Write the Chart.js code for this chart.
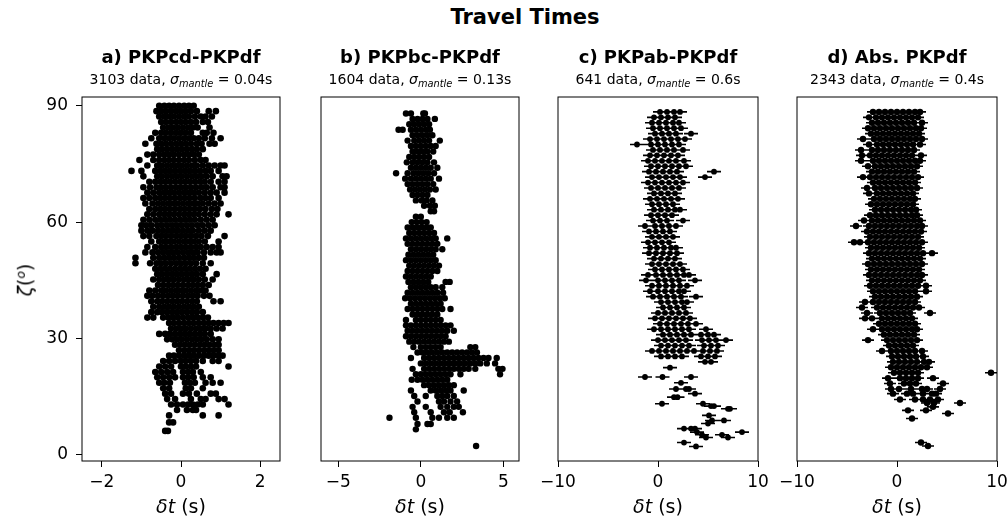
<!DOCTYPE html>
<html>
<head>
<meta charset="utf-8">
<script src="https://cdn.jsdelivr.net/npm/chart.js@4.4.1/dist/chart.umd.min.js"></script>
<style>
  html, body { margin: 0; padding: 0; background: #fff; overflow: hidden; }
  #fig { position: relative; width: 1007px; height: 524px; overflow: hidden;
         font-family: "DejaVu Sans", sans-serif; color: #000; }
  #fig canvas { position: absolute; }
  .lbl { position: absolute; white-space: nowrap; transform: translate(-50%, -50%); line-height: 1; }
  .suptitle { font-size: 21px; font-weight: bold; }
  .ptitle { font-size: 18px; font-weight: bold; }
  .psub { font-size: 14px; }
  .psub sub { font-size: 70%; vertical-align: -0.3em; }
  .xlab { font-size: 19px; }
  .ylab { font-size: 19px; transform: translate(-50%, -50%) rotate(-90deg); }
  .ylab sup { font-size: 65%; vertical-align: 0.6em; }
</style>
</head>
<body>
<div id="fig"></div>
<script>
/* ======================================================
   DATA  (one row = [zeta, dt, dt, ...])
====================================================== */

const figTitle = 'Travel Times';
const panelTitles = ['a) PKPcd-PKPdf', 'b) PKPbc-PKPdf', 'c) PKPab-PKPdf', 'd) Abs. PKPdf'];
const panelCounts = [3103, 1604, 641, 2343];
const sigmaMantle = ['0.04', '0.13', '0.6', '0.4'];
const errHalf = [0, 0, 0.7, 0.6];

const yTicks = [0, 30, 60, 90];
const xTicksA = [-2, 0, 2];
const xTicksB = [-5, 0, 5];
const xTicksC = [-10, 0, 10];
const xTicksD = [-10, 0, 10];

const aRows = [
  [90.0, -0.55,-0.42,-0.3,-0.18,-0.05,0.08,0.2,0.32],
  [88.6, -0.62,-0.5,-0.38,-0.25,-0.12,0,0.12,0.25,0.4,0.7,0.88],
  [87.2, -0.55,-0.42,-0.3,-0.18,-0.05,0.08,0.2,0.35,0.5,0.62,0.78],
  [85.8, -0.5,-0.38,-0.25,-0.12,0,0.12,0.25,0.38,0.55,0.68],
  [84.4, -0.45,-0.32,-0.2,-0.08,0.05,0.18,0.3,0.42,0.72],
  [83.0, -0.65,-0.5,-0.38,-0.25,-0.12,0,0.12,0.25,0.55,0.65,0.82],
  [81.6, -0.75,-0.55,-0.42,-0.3,-0.18,-0.05,0.08,0.2,0.32,0.45,0.6,0.78,1.0],
  [80.2, -0.9,-0.62,-0.5,-0.38,-0.25,-0.12,0,0.12,0.25,0.4,0.52,0.72,0.85],
  [78.8, -0.6,-0.48,-0.35,-0.22,-0.1,0.02,0.15,0.28,0.4,0.55],
  [77.4, -0.85,-0.7,-0.55,-0.42,-0.3,-0.18,-0.05,0.08,0.2,0.32,0.45],
  [76.0, -1.05,-0.7,-0.55,-0.42,-0.3,-0.18,-0.05,0.08,0.2,0.35,0.5,0.62],
  [74.6, -0.85,-0.6,-0.48,-0.35,-0.22,-0.1,0.02,0.15,0.28,0.4,0.55,0.7,0.85,1.0,1.1],
  [73.2, -1.25,-1.0,-0.65,-0.52,-0.4,-0.28,-0.15,-0.02,0.1,0.22,0.35,0.48,0.62,0.75,0.95],
  [71.8, -0.95,-0.6,-0.48,-0.35,-0.22,-0.1,0.02,0.15,0.28,0.4,0.52,0.65,0.8,1.05,1.15],
  [70.4, -0.8,-0.65,-0.52,-0.4,-0.28,-0.15,-0.02,0.1,0.22,0.35,0.48,0.6,0.75,0.95,1.1],
  [69.0, -0.95,-0.78,-0.62,-0.5,-0.38,-0.25,-0.12,0,0.12,0.25,0.38,0.52,0.65,0.8,1.0,1.1],
  [67.6, -0.85,-0.7,-0.55,-0.42,-0.3,-0.18,-0.05,0.08,0.2,0.32,0.45,0.6,0.75,0.9,1.1],
  [66.2, -0.95,-0.8,-0.65,-0.52,-0.4,-0.28,-0.15,-0.02,0.1,0.22,0.35,0.5,0.62,0.75,0.95],
  [64.8, -0.9,-0.72,-0.58,-0.45,-0.32,-0.2,-0.08,0.05,0.18,0.3,0.42,0.55,0.7,0.85,1.0],
  [63.4, -0.8,-0.65,-0.52,-0.4,-0.28,-0.15,-0.02,0.1,0.22,0.35,0.48,0.62,0.78,0.92],
  [62.0, -0.85,-0.7,-0.55,-0.42,-0.3,-0.18,-0.05,0.08,0.2,0.32,0.45,0.6,0.75,0.9,1.2],
  [60.6, -0.95,-0.8,-0.65,-0.52,-0.4,-0.28,-0.15,-0.02,0.1,0.22,0.35,0.5,0.65,0.8],
  [59.2, -1.0,-0.88,-0.75,-0.6,-0.48,-0.35,-0.22,-0.1,0.02,0.15,0.28,0.42,0.55,0.7,0.85],
  [57.8, -1.0,-0.85,-0.72,-0.58,-0.45,-0.32,-0.2,-0.08,0.05,0.18,0.3,0.45,0.6,0.75],
  [56.4, -0.95,-0.8,-0.62,-0.5,-0.38,-0.25,-0.12,0,0.12,0.25,0.38,0.52,0.68,1.1],
  [55.0, -0.75,-0.55,-0.42,-0.3,-0.18,-0.05,0.08,0.2,0.32,0.45,0.6,0.95],
  [53.6, -0.85,-0.65,-0.5,-0.38,-0.25,-0.12,0,0.12,0.25,0.38,0.5,0.65,0.8,0.95],
  [52.2, -0.9,-0.72,-0.58,-0.45,-0.32,-0.2,-0.08,0.05,0.18,0.3,0.42,0.58,0.75,0.9,1.0],
  [50.8, -1.15,-0.7,-0.55,-0.42,-0.3,-0.18,-0.05,0.08,0.2,0.32,0.45,0.58],
  [49.4, -1.15,-0.78,-0.62,-0.5,-0.38,-0.25,-0.12,0,0.12,0.25,0.38,0.55,0.75],
  [48.0, -0.65,-0.52,-0.4,-0.28,-0.15,-0.02,0.1,0.22,0.35,0.48,0.62],
  [46.6, -0.6,-0.48,-0.35,-0.22,-0.1,0.02,0.15,0.28,0.4,0.55,0.9],
  [45.2, -0.7,-0.55,-0.42,-0.3,-0.18,-0.05,0.08,0.2,0.32,0.45,0.6,0.8],
  [43.8, -0.58,-0.45,-0.32,-0.2,-0.08,0.05,0.18,0.3,0.42,0.55,0.7],
  [42.4, -0.8,-0.65,-0.5,-0.38,-0.25,-0.12,0,0.12,0.25,0.38,0.5,0.62],
  [41.0, -0.85,-0.72,-0.58,-0.45,-0.32,-0.2,-0.08,0.05,0.18,0.3,0.42,0.58,0.72],
  [39.6, -0.75,-0.6,-0.48,-0.35,-0.22,-0.1,0.02,0.15,0.28,0.4,0.82,1.0],
  [38.2, -0.7,-0.55,-0.42,-0.3,-0.18,-0.05,0.08,0.2,0.32,0.45],
  [36.8, -0.75,-0.6,-0.48,-0.35,-0.22,-0.1,0.02,0.15,0.28,0.4,0.55],
  [35.4, -0.85,-0.7,-0.45,-0.32,-0.2,-0.08,0.05,0.18,0.3,0.42,0.55,0.68],
  [34.0, -0.3,-0.18,-0.05,0.08,0.2,0.32,0.45,0.58,0.7,0.82,0.95,1.08,1.2],
  [32.6, -0.25,-0.12,0,0.12,0.25,0.38,0.5,0.62,0.75,0.9,1.05],
  [31.2, -0.55,-0.4,-0.28,-0.15,-0.02,0.1,0.22,0.35,0.48,0.6,0.75],
  [29.8, -0.35,-0.22,-0.1,0.02,0.15,0.28,0.4,0.52,0.65,0.8,0.95],
  [28.4, -0.15,-0.02,0.1,0.22,0.35,0.48,0.6,0.72,0.85,0.95],
  [27.0, -0.05,0.08,0.2,0.32,0.45,0.58,0.7,0.82,0.95],
  [25.6, -0.3,-0.18,-0.05,0.08,0.2,0.32,0.45,0.58,0.7,0.82,0.95,1.05],
  [24.2, -0.45,-0.3,-0.15,0,0.12,0.25,0.38,0.55,0.8,0.95],
  [22.8, -0.55,-0.4,-0.25,0,0.12,0.25,0.38,1.2],
  [21.4, -0.65,-0.5,-0.35,-0.2,0.05,0.18,0.3,0.5],
  [20.0, -0.6,-0.45,-0.3,-0.15,0.05,0.18,0.32,0.55,0.75],
  [18.6, -0.55,-0.42,-0.28,0.1,0.22,0.35,0.62,0.8,1.0],
  [17.2, -0.45,-0.3,0.12,0.25,0.55],
  [15.8, -0.4,-0.25,0.05,0.2,0.4,0.75,0.88],
  [14.4, -0.35,-0.15,0.25,0.5,0.62,0.95,1.1],
  [13.0, -0.25,-0.1,0.05,0.18,0.3,0.42,0.55,1.2],
  [11.6, -0.1,0.15,0.3,0.38],
  [10.2, -0.3,0.55,0.95],
  [8.4, -0.3,-0.2],
  [6.2, -0.4,-0.33]
];

const bRows = [
  [88.0, -0.9,-0.6,0.15,0.25],
  [86.6, -0.5,-0.2,0.1,0.4,0.85],
  [85.2, -0.7,-0.4,-0.1,0.2,0.5],
  [83.8, -1.35,-1.1,-0.6,-0.3,0,0.3,0.55],
  [82.4, -0.5,-0.2,0.1,0.4,0.7],
  [81.0, -0.8,-0.4,-0.1,0.2,0.5,1.15],
  [79.6, -0.6,-0.3,0,0.3,0.6,0.9],
  [78.2, -0.5,-0.2,0.1,0.4,0.75],
  [76.8, -0.7,-0.4,-0.1,0.2,0.5],
  [75.4, -0.85,-0.5,-0.2,0.1,0.4,0.8],
  [74.0, -0.6,-0.3,0,0.3,0.6,1.0],
  [72.6, -1.5,-0.8,-0.45,-0.15,0.15,0.45,0.8],
  [71.2, -0.95,-0.6,-0.3,0,0.3,0.6,1.1],
  [69.8, -0.8,-0.5,-0.2,0.1,0.4,0.75],
  [68.4, -0.65,-0.35,-0.05,0.25,0.55,0.9],
  [67.0, -0.5,-0.2,0.1,0.4],
  [65.6, -0.3,0.05,0.35,0.7],
  [64.2, 0.2,0.55,0.85],
  [62.8, 0.6,0.8],
  [61.4, -0.3,0.0],
  [60.0, -0.55,-0.25,0.05,0.35],
  [58.6, -0.8,-0.5,-0.2,0.1,0.4,0.6],
  [57.2, -0.7,-0.4,-0.1,0.2,0.5,0.8],
  [55.8, -0.9,-0.6,-0.3,0,0.3,0.6,0.9,1.6],
  [54.4, -0.8,-0.5,-0.2,0.1,0.4,0.7,1.0],
  [53.0, -0.6,-0.3,0,0.3,0.6,0.9,1.3],
  [51.6, -0.75,-0.45,-0.15,0.15,0.45,0.75],
  [50.2, -0.9,-0.6,-0.3,0,0.3,0.6,0.9],
  [48.8, -0.7,-0.4,-0.1,0.2,0.5,0.8,1.1],
  [47.4, -0.8,-0.5,-0.2,0.1,0.4,0.7,1.0],
  [46.0, -0.9,-0.6,-0.3,0,0.3,0.6],
  [44.6, -0.75,-0.45,-0.15,0.15,0.45,1.5,1.75],
  [43.2, -0.6,-0.3,0,0.3,0.6,0.9,1.3],
  [41.8, -0.8,-0.5,-0.2,0.1,0.4,0.7,1.0,1.35],
  [40.4, -0.95,-0.65,-0.35,-0.05,0.25,0.55,0.85,1.15,1.45],
  [39.0, -0.6,-0.3,0,0.3,0.6,0.9,1.2],
  [37.6, -0.8,-0.5,-0.2,0.1,0.4,0.7,1.0,1.3,1.8],
  [36.2, -0.5,-0.2,0.1,0.4,0.7,1.0],
  [34.8, -0.9,-0.3,0,0.3,0.6,0.9,1.2],
  [33.4, -0.9,-0.6,-0.3,0,0.3,0.6,0.9,1.2,1.5,1.8],
  [32.0, -0.8,-0.5,-0.2,0.1,0.4,0.7,1.0,1.3,1.6,2.0],
  [30.6, -0.9,-0.6,-0.3,0,0.3,0.6,0.9,1.2,1.5],
  [29.2, -0.7,-0.4,-0.1,0.2,0.5,0.8,1.1,1.4,1.7],
  [27.8, -0.45,0,0.3,0.6,0.9,1.2,3.0,3.3],
  [26.4, -0.2,0.1,0.4,0.7,1.0,1.3,1.6,1.9,2.2,2.5,2.8,3.1,3.4],
  [25.0, -0.6,0.2,0.5,0.8,1.1,1.4,1.7,2.0,2.3,2.6,2.9,3.2,3.5,3.8,4.1,4.6],
  [23.6, 0.0,0.3,0.6,0.9,1.2,1.5,1.8,2.1,2.4,2.7,3.0,3.3,3.6,4.0,4.5],
  [22.2, -0.5,0.2,0.5,0.8,1.1,1.4,1.7,2.0,2.3,2.6,2.9,3.3,4.7,4.95],
  [20.8, -0.3,0.0,0.3,0.6,0.9,1.2,1.5,1.8,2.4,4.8],
  [19.4, -0.55,-0.2,0.1,0.4,0.7,1.0,1.3,1.6],
  [18.0, 0.2,0.5,0.8,1.1,1.4,1.7,2.0],
  [16.6, -0.6,0.6,0.9,1.2,1.5,1.8,2.6],
  [15.2, -0.4,0.3,1.0,1.3,1.6,2.0],
  [13.8, -0.2,1.1,1.4,1.8,2.2],
  [12.4, -0.5,0.3,1.2,1.6,2.0,2.3],
  [11.0, -0.4,0.6,1.4,1.75,2.55],
  [9.6, -1.9,-0.3,0.7,1.1,1.6,2.0],
  [8.0, -0.2,0.4,0.6],
  [6.6, -0.3],
  [2.3, 3.35]
];

const cRows = [
  [88.4, 0.2,0.9,1.6,2.2],
  [87.0, -0.4,0.3,1.0,1.7],
  [85.6, -0.6,0.1,0.8,1.5,2.1],
  [84.2, -0.5,0.2,0.9,1.6,2.3],
  [82.8, -0.3,0.4,1.1,1.8,3.3],
  [81.4, -0.8,-0.1,0.6,1.3,2.0,2.7],
  [80.0, -2.1,-0.7,0,0.7,1.4,2.1],
  [78.6, -0.5,0.2,0.9,1.6,2.5],
  [77.2, -0.8,-0.1,0.6,1.3,2.0],
  [75.8, -1.0,-0.3,0.4,1.1,1.8,2.6],
  [74.4, -0.7,0,0.7,1.4,2.1,2.8],
  [73.0, -0.9,-0.2,0.5,1.2,1.9,5.6],
  [71.6, -0.6,0.1,0.8,1.5,2.2,4.7],
  [70.2, -1.0,-0.3,0.4,1.1,1.8,2.5],
  [68.8, -0.7,0,0.7,1.4,2.1],
  [67.4, -0.4,0.3,1.0,1.7],
  [66.0, -0.8,-0.1,0.6,1.3,2.0],
  [64.6, -0.6,0.1,0.8,1.5],
  [63.2, -0.4,0.3,1.0,1.7,2.2],
  [61.8, -0.7,0,0.7,1.4],
  [60.4, -0.5,0.2,0.9,2.5],
  [59.0, -1.3,-0.3,0.4,1.1,1.8],
  [57.6, -0.9,-0.2,0.5,1.2],
  [56.2, -0.6,0.1,0.8,1.5],
  [54.8, -1.0,-0.3,0.4,1.1],
  [53.4, -0.8,-0.1,0.6,1.3,1.8],
  [52.0, -0.9,-0.2,0.5,1.2,1.9],
  [50.6, -0.4,0.3,1.0,1.7],
  [49.2, -0.6,0.1,0.8,1.5,2.2],
  [47.8, -0.3,0.4,1.1,1.8,2.5],
  [46.4, -1.0,-0.2,0.5,1.2,1.9,2.6,3.1],
  [45.0, -1.2,0,0.7,1.4,2.1,3.7],
  [43.6, -0.6,0.1,0.8,1.5,2.2,2.9],
  [42.2, -0.8,0,0.7,1.4,2.1,2.6],
  [40.8, -0.5,0.2,0.9,1.6,2.3,3.8],
  [39.4, 0.3,1.0,1.7,2.4,2.9],
  [38.0, 0.5,1.2,1.9,2.6],
  [36.6, 0.0,0.7,1.4,2.1,2.8],
  [35.2, -0.3,0.4,1.1,1.8,2.5,3.2],
  [33.8, 0.2,0.9,1.6,2.3,3.0,3.8],
  [32.4, -0.4,0.3,1.0,1.7,2.4,3.1,4.8],
  [31.0, 0.5,1.2,1.9,2.6,3.3,4.3,5.0,5.6],
  [29.6, 0.0,0.7,1.4,2.1,2.8,4.4,5.1,5.8,6.8],
  [28.2, 0.3,1.0,1.7,2.4,3.1,4.6,5.3,6.0],
  [26.8, -0.6,0.1,0.8,1.5,2.2,2.9,3.6,4.5,5.2,5.9],
  [25.4, 0.3,1.0,1.7,2.4,4.3,5.0,5.7],
  [24.0, 4.7,5.3],
  [22.5, 1.2],
  [20.1, -1.3,0.45,3.3],
  [18.6, 2.3],
  [17.0, 1.8,2.8,3.1],
  [15.8, 3.7],
  [14.9, 1.6,1.95],
  [13.2, 0.4,4.5],
  [12.6, 5.3,5.6],
  [11.9, 7.0,7.2],
  [10.2, 5.1],
  [8.9, 5.4,6.6],
  [8.1, 5.0],
  [6.8, 2.6,3.3,3.7],
  [5.9, 3.9,8.4],
  [5.2, 4.4,6.4],
  [4.5, 4.8,7.0],
  [3.2, 2.6],
  [2.2, 3.8]
];

const dRows = [
  [88.4, -2.4,-1.8,-1.2,-0.6,0,0.6,1.2,1.8,2.3],
  [87.0, -2.8,-2.1,-1.5,-0.9,-0.3,0.3,0.9,1.5,2.1],
  [85.6, -2.5,-1.9,-1.3,-0.7,-0.1,0.5,1.1,1.7,2.5],
  [84.2, -2.9,-2.3,-1.7,-1.1,-0.5,0.1,0.7,1.3,1.9,2.4],
  [82.8, -2.6,-2.0,-1.4,-0.8,-0.2,0.4,1.0,1.6,2.2],
  [81.4, -3.4,-2.3,-1.7,-1.1,-0.5,0.1,0.7,1.3,1.9,2.5],
  [80.0, -2.8,-2.0,-1.4,-0.8,-0.2,0.4,1.0,1.6,2.3],
  [78.6, -3.6,-2.5,-1.9,-1.3,-0.7,-0.1,0.5,1.1,1.7],
  [77.2, -3.5,-2.7,-2.1,-1.5,-0.9,-0.3,0.3,0.9,1.5,2.4],
  [75.8, -3.6,-2.4,-1.8,-1.2,-0.6,0,0.6,1.2,1.8,2.3],
  [74.4, -2.9,-2.2,-1.6,-1.0,-0.4,0.2,0.8,1.4,2.0],
  [73.0, -2.5,-1.9,-1.3,-0.7,-0.1,0.5,1.1,1.7],
  [71.6, -3.4,-2.7,-2.1,-1.5,-0.9,-0.3,0.3,0.9,1.5,2.1],
  [70.2, -2.4,-1.8,-1.2,-0.6,0,0.6,1.2,1.8],
  [68.8, -3.0,-2.2,-1.6,-1.0,-0.4,0.2,0.8,1.4,2.0],
  [67.4, -2.8,-2.0,-1.4,-0.8,-0.2,0.4,1.0,1.6],
  [66.0, -2.3,-1.7,-1.1,-0.5,0.1,0.7,1.3,1.8],
  [64.6, -2.6,-2.0,-1.4,-0.8,-0.2,0.4,1.0,1.6],
  [63.2, -2.2,-1.6,-1.0,-0.4,0.2,0.8,1.4,1.9],
  [61.8, -2.7,-2.1,-1.5,-0.9,-0.3,0.3,0.9,1.5,2.0],
  [60.4, -3.3,-2.5,-1.9,-1.3,-0.7,-0.1,0.5,1.1,1.7,2.3],
  [59.0, -4.1,-2.8,-2.2,-1.6,-1.0,-0.4,0.2,0.8,1.4,2.0,2.5],
  [57.6, -3.0,-2.4,-1.8,-1.2,-0.6,0,0.6,1.2,1.8,2.4],
  [56.2, -2.7,-2.1,-1.5,-0.9,-0.3,0.3,0.9,1.5,2.1],
  [54.8, -4.3,-3.7,-2.9,-2.3,-1.7,-1.1,-0.5,0.1,0.7,1.3,1.9,2.5],
  [53.4, -2.6,-2.0,-1.4,-0.8,-0.2,0.4,1.0,1.6,2.2],
  [52.0, -2.8,-2.2,-1.6,-1.0,-0.4,0.2,0.8,1.4,2.0,2.6,3.5],
  [50.6, -2.5,-1.9,-1.3,-0.7,-0.1,0.5,1.1,1.7,2.3],
  [49.2, -2.9,-2.3,-1.7,-1.1,-0.5,0.1,0.7,1.3,1.9,2.5],
  [47.8, -2.6,-2.0,-1.4,-0.8,-0.2,0.4,1.0,1.6,2.2],
  [46.4, -2.8,-2.2,-1.6,-1.0,-0.4,0.2,0.8,1.4,2.0,2.5],
  [45.0, -2.5,-1.9,-1.3,-0.7,-0.1,0.5,1.1,1.7,2.3],
  [43.6, -2.7,-2.1,-1.5,-0.9,-0.3,0.3,0.9,1.5,2.1,2.9],
  [42.2, -2.4,-1.8,-1.2,-0.6,0,0.6,1.2,1.8,2.9],
  [40.8, -2.2,-1.6,-1.0,-0.4,0.2,0.8,1.4,2.0],
  [39.4, -3.2,-2.4,-1.8,-1.2,-0.6,0,0.6,1.2,1.8],
  [38.0, -3.5,-2.0,-1.4,-0.8,-0.2,0.4,1.0,1.6,2.2],
  [36.6, -3.0,-1.7,-1.1,-0.5,0.1,0.7,1.3,3.3],
  [35.2, -3.2,-2.5,-1.5,-0.9,-0.3,0.3,0.9,1.5],
  [33.8, -1.8,-1.2,-0.6,0,0.6,1.2,1.8],
  [32.4, -2.4,-1.5,-0.9,-0.3,0.3,0.9,1.5,2.0],
  [31.0, -1.3,-0.7,-0.1,0.5,1.1,1.7],
  [29.6, -2.9,-1.0,-0.4,0.2,0.8,1.4,2.0],
  [28.2, -0.8,-0.2,0.4,1.0,1.6],
  [26.8, -1.5,-0.6,0,0.6,1.2,1.8,2.5],
  [25.4, -0.5,0.1,0.7,1.3,1.9,2.6],
  [24.0, -0.4,0.2,0.8,1.4,2.0,2.7,3.2],
  [22.6, -0.6,0,0.6,1.2,1.8,2.4,3.0],
  [21.2, -0.3,0.3,0.9,1.5,2.1,9.4],
  [19.8, -0.9,0.3,0.9,1.5,2.1,3.6],
  [18.4, -0.7,0.7,1.3,1.9,4.6],
  [17.0, -0.6,0.2,1.4,2.5,3.0,4.3],
  [15.8, -0.4,1.0,1.6,2.6,3.5,3.9],
  [14.3, 0.3,1.8,2.6,3.3,4.1],
  [13.4, 3.0,3.7,6.3],
  [12.4, 3.6],
  [11.5, 1.1,2.9],
  [10.7, 5.1],
  [9.4, 1.5],
  [3.2, 2.4],
  [2.3, 3.1]
];

const panelRows = [aRows, bRows, cRows, dRows];
const panelXTicks = [xTicksA, xTicksB, xTicksC, xTicksD];

/* ======================================================
   LAYOUT
====================================================== */

const FIG_H = 524;
const CANVAS_TOP = 60;
const BOX_TOP = 97;
const BOX_BOTTOM = 461;
const Y_AXIS_W = 82;
const boxes = [
  { l: 82,  r: 280, xmin: -2.5,  xmax: 2.5,  radius: 3.3 },
  { l: 321, r: 519, xmin: -6.05, xmax: 5.95, radius: 3.2 },
  { l: 558, r: 758, xmin: -10,   xmax: 10,   radius: 2.9 },
  { l: 797, r: 997, xmin: -10,   xmax: 10,   radius: 3.2 }
];
const Y_MIN = -1.55, Y_MAX = 92.24;

/* ======================================================
   HELPERS / PLUGINS
====================================================== */

function rowsToPoints(rows) {
  const pts = [];
  rows.forEach(r => {
    for (let k = 1; k < r.length; k++) pts.push({ x: r[k], y: r[0] });
  });
  return pts;
}

function fmtTick(v) {
  return v < 0 ? '\u2212' + Math.abs(v) : String(v);
}

const framePlugin = {
  id: 'frame',
  afterDatasetsDraw(chart) {
    const a = chart.chartArea, c = chart.ctx;
    c.save();
    c.strokeStyle = '#000';
    c.lineWidth = 1;
    c.strokeRect(a.left, a.top, a.right - a.left, a.bottom - a.top);
    c.restore();
  }
};

const errorBarPlugin = {
  id: 'errorBars',
  beforeDatasetsDraw(chart, args, opts) {
    if (!opts.half) return;
    const xs = chart.scales.x, ys = chart.scales.y, c = chart.ctx;
    c.save();
    c.strokeStyle = '#000';
    c.lineWidth = 1.6;
    c.beginPath();
    chart.data.datasets[0].data.forEach(p => {
      const py = ys.getPixelForValue(p.y);
      c.moveTo(xs.getPixelForValue(p.x - opts.half), py);
      c.lineTo(xs.getPixelForValue(p.x + opts.half), py);
    });
    c.stroke();
    c.restore();
  }
};

const axisGrid = { drawOnChartArea: false, drawTicks: true, tickLength: 6, color: '#000', lineWidth: 1 };

/* ======================================================
   BUILD
====================================================== */

Chart.defaults.font.family = '"DejaVu Sans", sans-serif';
Chart.defaults.color = '#000';

const fig = document.getElementById('fig');

function addLabel(cls, html, x, y) {
  const d = document.createElement('div');
  d.className = 'lbl ' + cls;
  d.innerHTML = html;
  d.style.left = x + 'px';
  d.style.top = y + 'px';
  fig.appendChild(d);
}

function makePanel(i) {
  const box = boxes[i];
  const padL = i === 0 ? 0 : 40;
  const padR = 25;
  const left = i === 0 ? box.l - Y_AXIS_W : box.l - padL;
  const width = box.r - left + padR;
  const height = FIG_H - CANVAS_TOP;

  const canvas = document.createElement('canvas');
  canvas.width = width;
  canvas.height = height;
  canvas.style.left = left + 'px';
  canvas.style.top = CANVAS_TOP + 'px';
  canvas.style.width = width + 'px';
  canvas.style.height = height + 'px';
  fig.appendChild(canvas);

  return new Chart(canvas, {
    type: 'scatter',
    data: {
      datasets: [{
        data: rowsToPoints(panelRows[i]),
        pointRadius: box.radius,
        pointBackgroundColor: '#000',
        pointBorderWidth: 0,
        pointHoverRadius: box.radius
      }]
    },
    options: {
      responsive: false,
      animation: false,
      events: [],
      layout: { padding: { left: padL, right: padR, top: BOX_TOP - CANVAS_TOP, bottom: 0 } },
      plugins: {
        legend: { display: false },
        tooltip: { enabled: false },
        errorBars: { half: errHalf[i] }
      },
      scales: {
        x: {
          type: 'linear',
          min: box.xmin,
          max: box.xmax,
          afterBuildTicks: s => { s.ticks = panelXTicks[i].map(v => ({ value: v })); },
          afterFit: s => { s.height = FIG_H - BOX_BOTTOM; },
          grid: axisGrid,
          border: { display: false },
          ticks: { autoSkip: false, maxRotation: 0, padding: 5, font: { size: 17 }, color: '#000', callback: fmtTick }
        },
        y: {
          type: 'linear',
          display: i === 0,
          min: Y_MIN,
          max: Y_MAX,
          afterBuildTicks: s => { s.ticks = yTicks.map(v => ({ value: v })); },
          afterFit: s => { s.width = i === 0 ? Y_AXIS_W : 0; },
          grid: axisGrid,
          border: { display: false },
          ticks: { autoSkip: false, padding: 8, font: { size: 17 }, color: '#000', callback: fmtTick }
        }
      }
    },
    plugins: [framePlugin, errorBarPlugin]
  });
}

addLabel('suptitle', figTitle, 525, 17);

boxes.forEach((box, i) => {
  makePanel(i);
  const cx = (box.l + box.r) / 2;
  addLabel('ptitle', panelTitles[i], cx, 57);
  addLabel('psub', panelCounts[i] + ' data, <i>\u03c3</i><sub><i>mantle</i></sub> = ' + sigmaMantle[i] + 's', cx, 80);
  addLabel('xlab', '<i>\u03b4t</i> (s)', cx, 506);
});

addLabel('ylab', '<i>\u03b6</i>(<sup><i>o</i></sup>)', 25, 280);
</script>
</body>
</html>
